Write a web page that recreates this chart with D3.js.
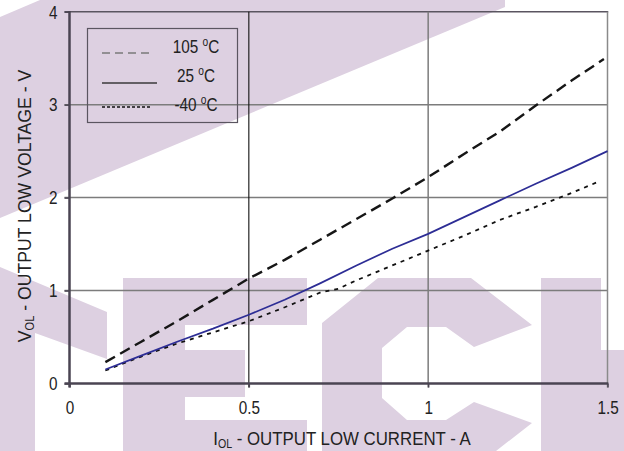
<!DOCTYPE html>
<html><head><meta charset="utf-8">
<script src="https://cdn.jsdelivr.net/npm/d3@7"></script>
<style>html,body{margin:0;padding:0;background:#fff;} svg{display:block;}</style>
</head><body><svg id="c" width="624" height="451"></svg>
<script>
// ---- data ----
const i105 = [0.1,0.2,0.3,0.4,0.5,0.6,0.7,0.8,0.9,1.0,1.1,1.2,1.3,1.4,1.49];
const v105 = [0.23,0.45,0.67,0.9,1.13,1.33,1.55,1.77,1.99,2.22,2.47,2.71,2.99,3.26,3.49];
const i25  = [0.1,0.2,0.3,0.4,0.5,0.6,0.7,0.8,0.9,1.0,1.1,1.2,1.3,1.4,1.5];
const v25  = [0.15,0.3,0.45,0.59,0.74,0.9,1.08,1.27,1.45,1.61,1.79,1.97,2.15,2.32,2.5];
const im40 = [0.1,0.2,0.3,0.4,0.5,0.6,0.7,0.75,0.8,0.9,1.0,1.1,1.2,1.3,1.4,1.48];
const vm40 = [0.14,0.29,0.43,0.55,0.67,0.82,0.98,1.02,1.11,1.27,1.43,1.59,1.76,1.9,2.05,2.18];
const seriesLabels = ["105", "25", "-40"];
const xTicks = [0, 0.5, 1, 1.5];
const yTicks = [0, 1, 2, 3, 4];
const xTickLabels = ["0", "0.5", "1", "1.5"];
const yTickLabels = ["0", "1", "2", "3", "4"];

// ---- layout ----
const svg = d3.select("#c");
const FONT = "'Liberation Sans', Arial, sans-serif";
const x = d3.scaleLinear().domain([0, 1.5]).range([69.5, 607.5]);
const y = d3.scaleLinear().domain([0, 4]).range([383.5, 11.7]);
const WM = "#ddd0e1";

// watermark
const wm = [
  [[40,0],[505,0],[505,7],[0,218],[0,17]],
  [[0,267],[107,312],[107,359],[35,333],[35,451],[0,451]],
  [[123,278],[307,278],[307,325],[185,325],[185,350],[245,350],[245,397],[185,397],[185,420],[307,420],[307,451],[123,451]],
  [[378,278],[471,278],[532,325],[474,347],[446,327],[407,327],[382,348],[382,398],[407,420],[446,420],[474,402],[532,423],[496,451],[322,451],[322,323]],
  [[541,278],[601,278],[601,350],[624,350],[624,451],[541,451]]
];
svg.append("g").selectAll("polygon").data(wm).join("polygon")
  .attr("points", d => d.map(p => p.join(",")).join(" "))
  .attr("fill", WM);

function squeeze(sel, k) {
  sel.each(function() {
    const t = d3.select(this);
    const ax = +t.attr("x") || 0;
    t.attr("transform", `translate(${ax},0) scale(${k},1) translate(${-ax},0)`);
  });
}

// grid
const g = svg.append("g");
[1,2,3].forEach(v => g.append("line").attr("x1", x(0)-5).attr("x2", x(1.5)).attr("y1", y(v)).attr("y2", y(v))
  .attr("stroke", "#7c7c7c").attr("stroke-width", 1.5));
g.append("line").attr("x1", x(0)-5).attr("x2", x(1.5)+0.75).attr("y1", y(4)).attr("y2", y(4))
  .attr("stroke", "#5a5560").attr("stroke-width", 1.5);
g.append("line").attr("x1", x(0.5)).attr("x2", x(0.5)).attr("y1", y(4)).attr("y2", y(0)+4)
  .attr("stroke", "#111").attr("stroke-width", 1.1);
g.append("line").attr("x1", x(1)).attr("x2", x(1)).attr("y1", y(4)).attr("y2", y(0)+4)
  .attr("stroke", "#7c7c7c").attr("stroke-width", 1.5);
g.append("line").attr("x1", x(1.5)).attr("x2", x(1.5)).attr("y1", y(4)).attr("y2", y(0)+4)
  .attr("stroke", "#8a8a8a").attr("stroke-width", 1.5);

// axes (ticks + labels)
const ya = svg.append("g").attr("transform", `translate(${x(0)},0)`)
  .call(d3.axisLeft(y).tickValues(yTicks).tickFormat((d,i) => yTickLabels[i]).tickSize(5).tickPadding(7));
ya.select(".domain").remove();
ya.selectAll("line").attr("stroke", "#4a4452").attr("stroke-width", 1.5);
ya.selectAll("text").attr("font-family", FONT).attr("font-size", 18).attr("fill", "#222").attr("dy", "0.35em");
squeeze(ya.selectAll("text"), 0.85);

const xa = svg.append("g").attr("transform", `translate(0,${y(0)})`)
  .call(d3.axisBottom(x).tickValues(xTicks).tickFormat((d,i) => xTickLabels[i]).tickSize(4).tickPadding(14));
xa.select(".domain").remove();
xa.selectAll("line").attr("stroke", "#4a4452").attr("stroke-width", 1.5);
xa.selectAll("text").attr("font-family", FONT).attr("font-size", 18).attr("fill", "#222");
squeeze(xa.selectAll("text"), 0.85);

// axis lines
svg.append("line").attr("x1", x(0)).attr("x2", x(0)).attr("y1", y(4)-0.8).attr("y2", y(0)+4)
  .attr("stroke", "#4a4452").attr("stroke-width", 2.5);
svg.append("line").attr("x1", x(0)-5).attr("x2", x(1.5)+0.8).attr("y1", y(0)).attr("y2", y(0))
  .attr("stroke", "#4a4452").attr("stroke-width", 2.5);

// series
const line = d3.line().x(d => x(d[0])).y(d => y(d[1]));
const zip = (a, b) => a.map((v, i) => [v, b[i]]);
svg.append("path").datum(zip(im40, vm40)).attr("d", line).attr("fill", "none")
  .attr("stroke", "#111").attr("stroke-width", 1.8).attr("stroke-dasharray", "4,5");
svg.append("path").datum(zip(i25, v25)).attr("d", line).attr("fill", "none")
  .attr("stroke", "#2d2d95").attr("stroke-width", 1.7);
svg.append("path").datum(zip(i105, v105)).attr("d", line).attr("fill", "none")
  .attr("stroke", "#161616").attr("stroke-width", 2.4).attr("stroke-dasharray", "11,6");

// legend
const lg = svg.append("g");
lg.append("rect").attr("x", 87.5).attr("y", 28.5).attr("width", 150).attr("height", 94)
  .attr("fill", "none").attr("stroke", "#5a5560").attr("stroke-width", 1.2);
const legRows = [
  {lx2: 154, ly: 53, ty: 53, dash: "8,5", col: "#7a7a7a"},
  {lx2: 157, ly: 83, ty: 82, dash: null, col: "#3a3a3a"},
  {lx2: 151, ly: 107, ty: 111, dash: "3,2", col: "#111"}
];
legRows.forEach((r, i) => {
  const l = lg.append("line").attr("x1", 102).attr("x2", r.lx2).attr("y1", r.ly).attr("y2", r.ly)
    .attr("stroke", r.col).attr("stroke-width", 1.3);
  if (r.dash) l.attr("stroke-dasharray", r.dash);
  const t = lg.append("text").attr("x", 196).attr("y", r.ty).attr("text-anchor", "middle")
    .attr("font-family", FONT).attr("font-size", 18).attr("fill", "#222");
  t.append("tspan").text(seriesLabels[i] + " ");
  t.append("tspan").attr("font-size", 12).attr("dy", -7).text("o");
  t.append("tspan").attr("dy", 7).text("C");
  squeeze(t, 0.85);
});

// titles
function fitWidth(t, target) {
  const w = t.node().getBBox().width;
  return target / w;
}
const xt = svg.append("text").attr("x", 342).attr("y", 445).attr("text-anchor", "middle")
  .attr("font-family", FONT).attr("font-size", 19).attr("fill", "#222");
xt.append("tspan").text("I");
xt.append("tspan").attr("font-size", 12).attr("dy", 3).text("OL");
xt.append("tspan").attr("dy", -3).text(" - OUTPUT LOW CURRENT - A");
{ const k = fitWidth(xt, 258); xt.attr("transform", `translate(342,0) scale(${k},1) translate(-342,0)`); }

const yt = svg.append("text").attr("x", 0).attr("y", 0).attr("text-anchor", "middle")
  .attr("font-family", FONT).attr("font-size", 19).attr("fill", "#222");
yt.append("tspan").text("V");
yt.append("tspan").attr("font-size", 12).attr("dy", 3).text("OL");
yt.append("tspan").attr("dy", -3).text(" - OUTPUT LOW VOLTAGE - V");
{ const k = fitWidth(yt, 273); yt.attr("transform", `translate(31,206) rotate(-90) scale(${k},1)`); }
</script></body></html>
